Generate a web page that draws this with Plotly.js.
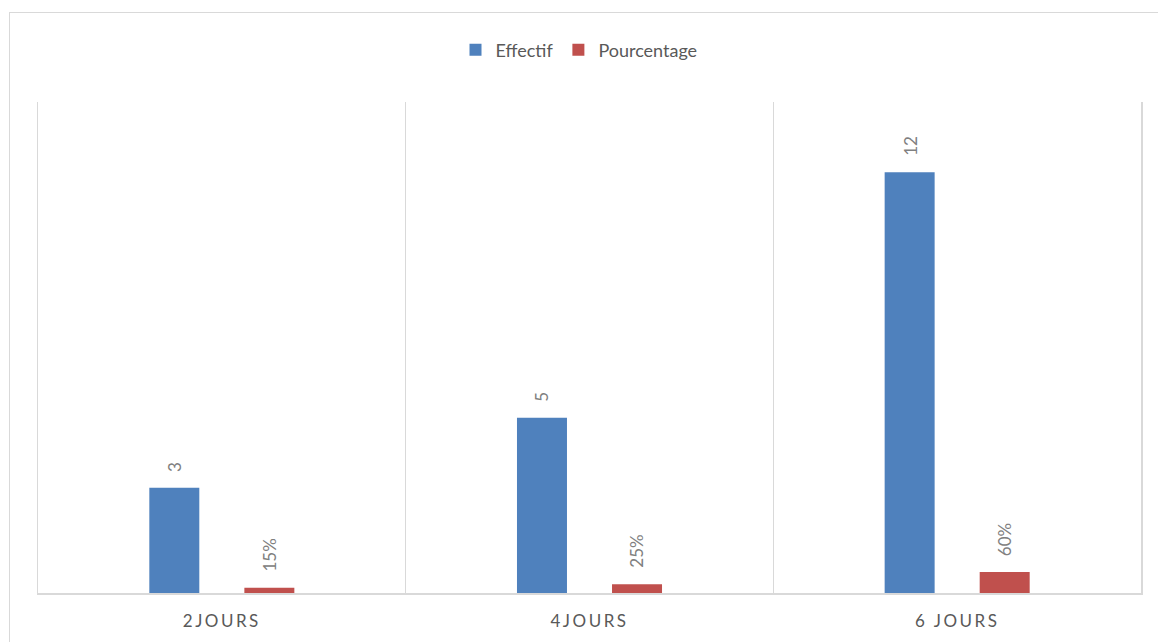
<!DOCTYPE html>
<html>
<head>
<meta charset="utf-8">
<script src="https://cdn.plot.ly/plotly-3.0.1.min.js"></script>
<style>
  html, body { margin: 0; padding: 0; background: #ffffff; }
  #wrap { position: relative; width: 1158px; height: 642px; overflow: hidden; }
  #chart { width: 1158px; height: 642px; }
  #frame {
    position: absolute; left: 9px; top: 12px; width: 1170px; height: 650px;
    border: 1.5px solid #d9d9d9; pointer-events: none; box-sizing: border-box;
  }
  .xtick text { letter-spacing: 2.5px; }
</style>
</head>
<body>
<div id="wrap">
  <div id="chart"></div>
  <div id="frame"></div>
</div>
<script>
// Durée en jours : effectif et pourcentage
const categories = ["2JOURS", "4JOURS", "6 JOURS"];
const effectif = [3, 5, 12];
const pourcentage = [0.15, 0.25, 0.60];

const blue = "#4f81bd";
const red = "#c0504d";
const labelFont = { family: "Lato, 'Open Sans', sans-serif", size: 17, color: "#808080" };

const traces = [
  {
    type: "bar", name: "Effectif", x: categories, y: effectif,
    marker: { color: blue }, hoverinfo: "skip"
  },
  {
    type: "bar", name: "Pourcentage", x: categories, y: pourcentage,
    marker: { color: red }, hoverinfo: "skip"
  }
];

// Vertical value labels above each bar
const annotations = [];
categories.forEach((c, i) => {
  annotations.push({
    x: c, y: effectif[i], xref: "x", yref: "y", text: String(effectif[i]),
    textangle: -90, showarrow: false, xanchor: "center", yanchor: "bottom",
    xshift: -47.5, yshift: 14, font: labelFont
  });
  annotations.push({
    x: c, y: pourcentage[i], xref: "x", yref: "y",
    text: Math.round(pourcentage[i] * 100) + "%",
    textangle: -90, showarrow: false, xanchor: "center", yanchor: "bottom",
    xshift: 47.5, yshift: 14, font: labelFont
  });
});

const layout = {
  width: 1158, height: 642,
  margin: { l: 38, r: 17, t: 102, b: 49 },
  paper_bgcolor: "rgba(0,0,0,0)", plot_bgcolor: "#ffffff",
  barmode: "group", bargap: 0.483, bargroupgap: 0.474,
  showlegend: true,
  legend: {
    orientation: "h", x: 0.5, xanchor: "center", xref: "container",
    y: 0.922, yanchor: "middle", yref: "container",
    font: { family: "Lato, 'Open Sans', sans-serif", size: 18, color: "#595959" },
    itemclick: false, itemdoubleclick: false
  },
  xaxis: {
    type: "category", range: [-0.5, 2.5], tickson: "boundaries",
    showgrid: true, gridcolor: "#d9d9d9", gridwidth: 1.5,
    showline: true, linecolor: "#d9d9d9", linewidth: 1.5,
    ticks: "", fixedrange: true, ticklabelstandoff: 12,
    tickfont: { family: "Lato, 'Open Sans', sans-serif", size: 17, color: "#595959" }
  },
  yaxis: {
    range: [0, 14], showgrid: false, zeroline: false,
    showline: true, mirror: true, linecolor: "#d9d9d9", linewidth: 1.5,
    showticklabels: false, ticks: "", fixedrange: true
  },
  annotations: annotations
};

Plotly.newPlot("chart", traces, layout, { displayModeBar: false, staticPlot: true });
</script>
</body>
</html>
